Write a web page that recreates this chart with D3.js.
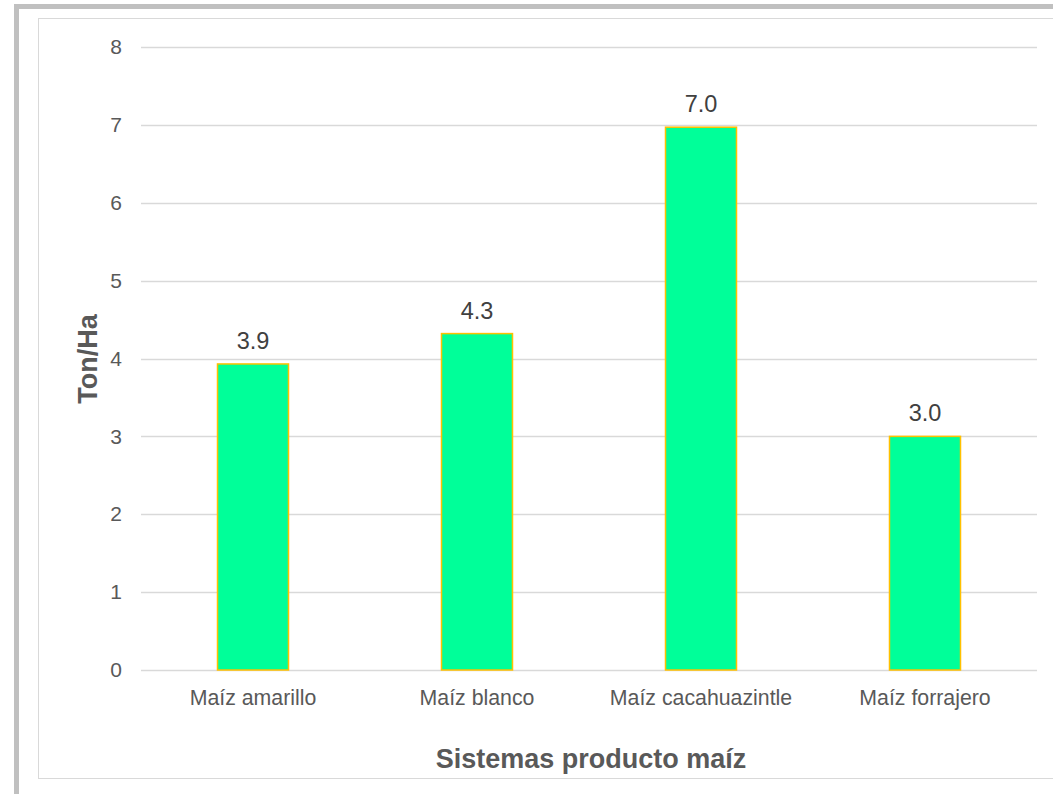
<!DOCTYPE html>
<html><head><meta charset="utf-8">
<script src="https://cdn.jsdelivr.net/npm/d3@7"></script>
<style>body{margin:0;background:#fff;overflow:hidden}svg{display:block}</style>
</head><body>
<script>
const categories = ["Maíz amarillo","Maíz blanco","Maíz cacahuazintle","Maíz forrajero"];
const values = [3.93, 4.32, 6.97, 3.0];
const valueLabels = ["3.9","4.3","7.0","3.0"];
const yTicks = [0,1,2,3,4,5,6,7,8];
const xTitle = "Sistemas producto maíz";
const yTitle = "Ton/Ha";

(function(){
const W = 1053, H = 794;
const svg = d3.select("body").append("svg").attr("width", W).attr("height", H);
const font = "Liberation Sans, Arial, sans-serif";

// outer frame
svg.append("rect").attr("x", 16.5).attr("y", 6.5).attr("width", W).attr("height", H)
  .attr("fill", "none").attr("stroke", "#c0c0c0").attr("stroke-width", 5);
// inner chart area border
svg.append("rect").attr("x", 38.5).attr("y", 18.5).attr("width", W).attr("height", 760)
  .attr("fill", "#fff").attr("stroke", "#d9d9d9").attr("stroke-width", 1);

const pLeft = 141, pRight = 1037, pTop = 47, pBottom = 670;
const x = d3.scaleBand().domain(categories).range([pLeft, pRight]).paddingInner(0.683).paddingOuter(0.3415);
const y = d3.scaleLinear().domain([0, 8]).range([pBottom, pTop]);

// gridlines
svg.append("g").selectAll("line").data(yTicks).join("line")
  .attr("x1", pLeft).attr("x2", pRight)
  .attr("y1", d => Math.round(y(d)) + 0.5).attr("y2", d => Math.round(y(d)) + 0.5)
  .attr("stroke", "#d9d9d9").attr("stroke-width", 1.3);

// y axis labels
const yAxis = d3.axisLeft(y).tickValues(yTicks).tickSize(0).tickPadding(0).tickFormat(d3.format("d"));
const gy = svg.append("g").attr("transform", `translate(${pLeft - 19},0)`).call(yAxis);
gy.select(".domain").remove();
gy.selectAll("text").attr("font-family", font).attr("font-size", 21).attr("fill", "#595959");

// bars
svg.append("g").selectAll("rect").data(values).join("rect")
  .attr("x", (d, i) => x(categories[i]))
  .attr("width", x.bandwidth())
  .attr("y", d => y(d))
  .attr("height", d => y(0) - y(d))
  .attr("fill", "#00ff99").attr("stroke", "#ffc000").attr("stroke-width", 1.5);

// value labels
svg.append("g").selectAll("text").data(values).join("text")
  .attr("x", (d, i) => x(categories[i]) + x.bandwidth() / 2)
  .attr("y", d => y(d) - 15)
  .attr("text-anchor", "middle")
  .attr("font-family", font).attr("font-size", 23.5).attr("fill", "#404040")
  .text((d, i) => valueLabels[i]);

// x axis labels
const xAxis = d3.axisBottom(x).tickSize(0).tickPadding(0);
const gx = svg.append("g").attr("transform", `translate(0,705)`).call(xAxis);
gx.select(".domain").remove();
gx.selectAll("text").attr("font-family", font).attr("font-size", 21.3).attr("fill", "#595959").attr("dy", 0);

// axis titles
svg.append("text").attr("x", (pLeft + pRight) / 2 + 2).attr("y", 768)
  .attr("text-anchor", "middle").attr("font-family", font).attr("font-size", 27)
  .attr("font-weight", "bold").attr("fill", "#595959").text(xTitle);
svg.append("text").attr("transform", `translate(97,359) rotate(-90)`)
  .attr("text-anchor", "middle").attr("font-family", font).attr("font-size", 27)
  .attr("font-weight", "bold").attr("fill", "#595959").text(yTitle);
})();
</script>
</body></html>
